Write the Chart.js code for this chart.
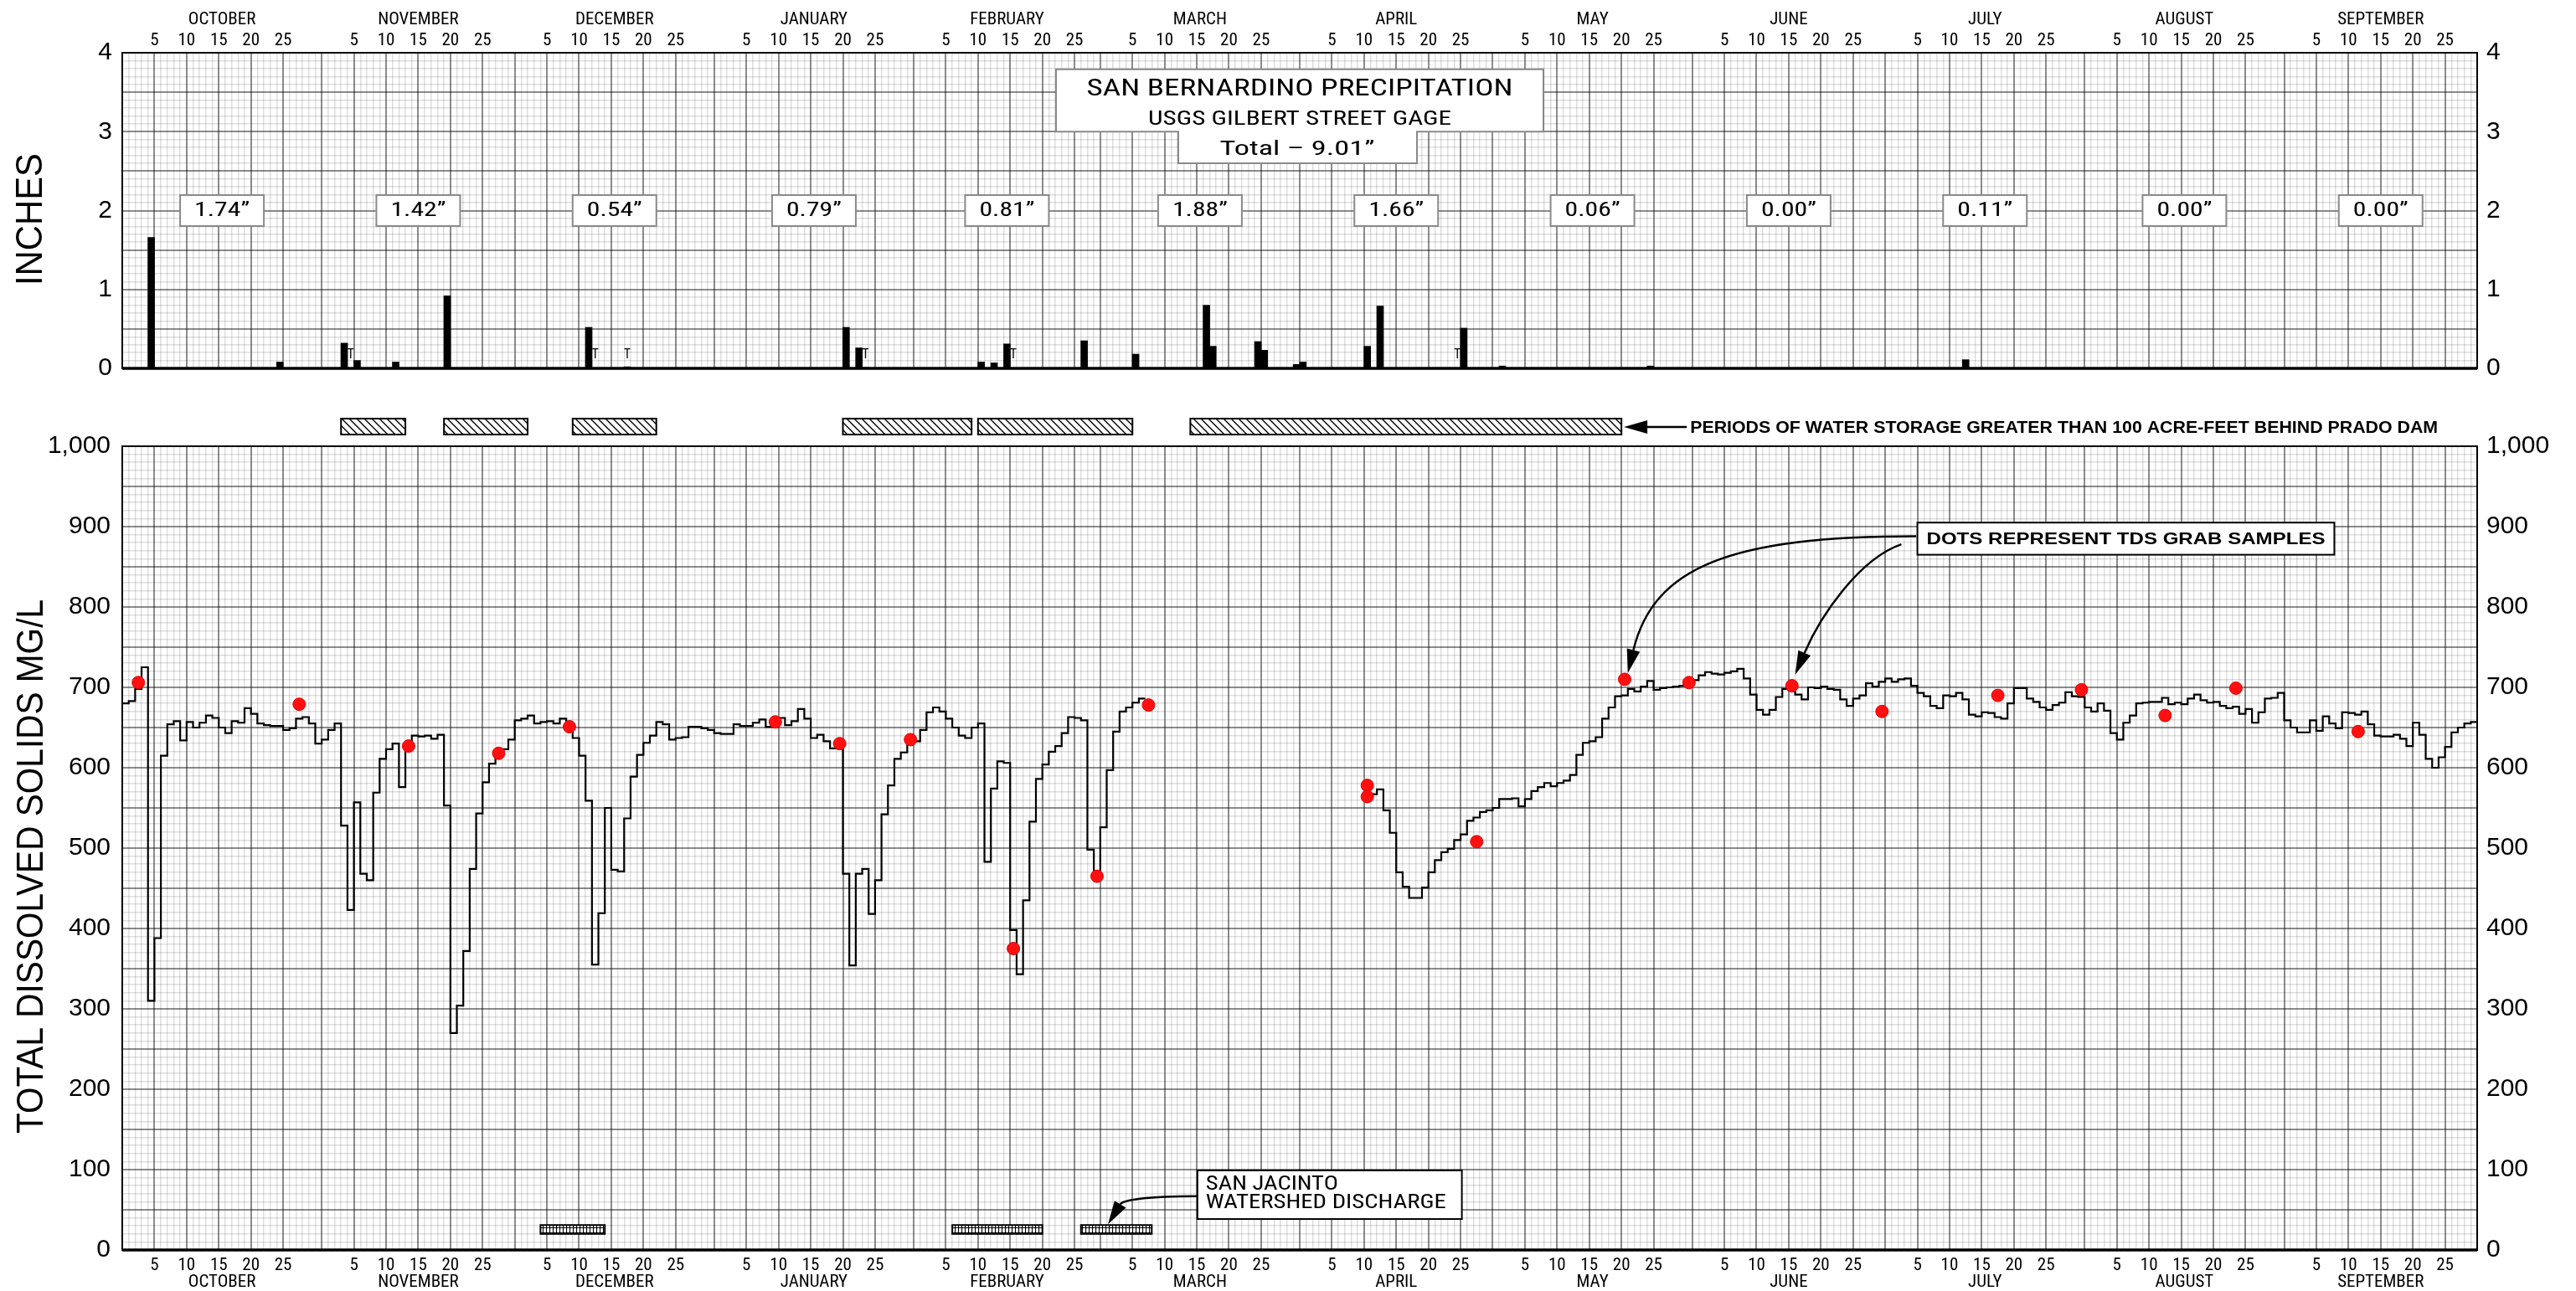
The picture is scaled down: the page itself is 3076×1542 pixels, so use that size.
<!DOCTYPE html>
<html>
<head>
<meta charset="utf-8">
<title>San Bernardino Precipitation and TDS</title>
<script src="https://cdn.jsdelivr.net/npm/chart.js@4"></script>
<style>
  body { margin: 0; background: #fff; }
  canvas { position: absolute; left: 0; }
  #rain { top: 0; }
  #tds { top: 470px; }
</style>
</head>
<body>
<canvas id="rain" width="3076" height="470"></canvas>
<canvas id="tds" width="3076" height="1072"></canvas>
<script>
// water year, Oct 1 .. Sep 30 (leap year, Feb has 29 days)
const monthKeys = ['OCT','NOV','DEC','JAN','FEB','MAR','APR','MAY','JUN','JUL','AUG','SEP'];
const monthNames = ['OCTOBER','NOVEMBER','DECEMBER','JANUARY','FEBRUARY','MARCH','APRIL','MAY','JUNE','JULY','AUGUST','SEPTEMBER'];
const monthLengths = [31,30,31,31,29,31,30,31,30,31,31,30];
const dayTickLabels = [5,10,15,20,25];
const monthTotals = ['1.74”','1.42”','0.54”','0.79”','0.81”','1.88”','1.66”','0.06”','0.00”','0.11”','0.00”','0.00”'];

// daily precipitation, inches
const precipDates = ['OCT 5','OCT 25','NOV 4','NOV 6','NOV 12','NOV 20','DEC 12','DEC 18','JAN 21','JAN 23','JAN 24',
  'FEB 11','FEB 13','FEB 15','FEB 27','MAR 6','MAR 17','MAR 18','MAR 25','MAR 26','MAR 31','APR 1','APR 11','APR 13',
  'APR 26','MAY 2','MAY 25','JUL 13'];
const precipInches = [1.66,0.08,0.32,0.10,0.08,0.92,0.52,0.02,0.52,0.26,0.01,
  0.08,0.07,0.31,0.35,0.18,0.80,0.28,0.34,0.23,0.05,0.08,0.28,0.79,
  0.51,0.03,0.03,0.11];
const traceDates = ['NOV 5','DEC 13','DEC 18','JAN 24','FEB 16','APR 25'];

// daily TDS, mg/L
const tdsOct = [680,683,698,725,310,388,615,654,658,634,657,650,656,665,662,650,643,658,656,674,667,655,653,652,652,647,649,661,663,655,630];
const tdsNov = [635,647,655,528,423,557,468,460,569,611,623,630,576,627,640,639,640,636,641,553,270,304,372,474,543,582,605,614,623,635];
const tdsDec = [659,661,665,655,657,658,655,661,656,637,615,559,355,419,550,473,471,537,589,616,631,640,657,654,635,637,638,651,651,649,647];
const tdsJan = [643,642,642,654,652,652,656,660,651,655,662,653,658,673,661,637,641,633,624,624,468,354,468,474,418,460,542,578,611,619,632];
const tdsFeb = [633,647,669,675,670,661,650,640,637,650,655,483,574,608,606,398,343,435,533,586,604,620,627,643,663,662,659,498,465];
const tdsMar = [526,597,645,670,675,681,686,null,null,null,null,null,null,null,null,null,null,null,null,null,null,null,null,null,null,null,null,null,null,null,null];
const tdsApr = [null,null,null,null,null,null,null,null,null,null,null,567,573,547,519,470,452,438,438,451,470,485,495,499,510,517,534,538,545,547];
const tdsMay = [550,561,561,562,552,561,571,576,581,577,581,584,591,616,631,633,638,661,675,689,690,698,695,701,708,697,699,700,701,702,704];
const tdsJun = [709,715,719,717,716,718,720,723,711,691,672,666,672,688,698,696,691,685,700,699,701,698,697,685,677,686,690,705,701,707];
const tdsJul = [711,707,710,711,702,693,689,677,674,690,689,693,685,666,664,669,668,663,661,680,699,699,686,682,675,672,678,681,694,689,688];
const tdsAug = [675,670,680,671,643,635,656,665,680,681,682,682,687,679,681,679,686,691,684,681,682,677,674,676,667,673,656,669,686,687,693];
const tdsSep = [659,650,644,644,659,646,664,655,649,669,668,666,670,654,640,639,639,641,636,627,656,641,611,600,613,626,644,650,655,657];

// TDS grab samples
const sampleDates = ['OCT 3','OCT 28','NOV 14','NOV 28','DEC 9','JAN 10','JAN 20','JAN 31','FEB 16','FEB 29','MAR 8',
  'APR 11','APR 11','APR 28','MAY 21','MAY 31','JUN 16','JUN 30','JUL 18','JUL 31','AUG 13','AUG 24','SEP 12'];
const sampleTds = [706,679,627,618,651,657,630,635,375,465,678,578,564,508,710,706,702,670,690,697,665,699,645];

// periods of storage > 100 acre-feet behind Prado Dam, and San Jacinto discharge
const storageFrom = ['NOV 4','NOV 20','DEC 10','JAN 21','FEB 11','MAR 15'];
const storageTo   = ['NOV 13','DEC 2','DEC 22','FEB 9','MAR 5','MAY 20'];
const dischargeFrom = ['DEC 5','FEB 7','FEB 27'];
const dischargeTo   = ['DEC 14','FEB 20','MAR 8'];

const NARROW = '"Liberation Sans Narrow", "Arial Narrow", "Roboto Condensed", "DejaVu Sans Condensed", "Liberation Sans", sans-serif';
const SANS = '"Liberation Sans", Arial, Helvetica, sans-serif';
const MAJOR = 'rgba(0,0,0,0.45)';
const MINOR = 'rgba(0,0,0,0.13)';

const monthStart = [];
let total = 0;
monthLengths.forEach(n => { monthStart.push(total); total += n; });
const DAYS = total;

function dayOf(s) {
  const [m, d] = s.split(' ');
  return monthStart[monthKeys.indexOf(m)] + Number(d) - 1;
}

const majorDays = new Set([DAYS]);
const dayLabel = new Map();
monthStart.forEach(s => {
  majorDays.add(s);
  dayTickLabels.forEach(d => { majorDays.add(s + d); dayLabel.set(s + d, String(d)); });
});

const tdsDaily = [].concat(tdsOct, tdsNov, tdsDec, tdsJan, tdsFeb, tdsMar, tdsApr, tdsMay, tdsJun, tdsJul, tdsAug, tdsSep);
const tdsSteps = [];
tdsDaily.forEach((v, i) => {
  if (v === null) tdsSteps.push({ x: i, y: null });
  else tdsSteps.push({ x: i, y: v }, { x: i + 1, y: v });
});

function fitText(ctx, text, x, y, width, font, align) {
  ctx.save();
  ctx.font = font;
  ctx.textBaseline = 'middle';
  ctx.textAlign = 'left';
  const w = ctx.measureText(text).width;
  let left = x;
  if (align === 'center') left = x - width / 2;
  if (align === 'right') left = x - width;
  ctx.translate(left, y);
  ctx.scale(width / w, 1);
  ctx.fillStyle = '#000';
  ctx.fillText(text, 0, 0);
  ctx.restore();
}

function arrow(ctx, p0, c1, c2, p3) {
  ctx.save();
  ctx.strokeStyle = '#000';
  ctx.fillStyle = '#000';
  ctx.lineWidth = 2.5;
  const ang = Math.atan2(p3.y - c2.y, p3.x - c2.x);
  const L = 28, W = 8;
  const bx = p3.x - L * Math.cos(ang), by = p3.y - L * Math.sin(ang);
  ctx.beginPath();
  ctx.moveTo(p0.x, p0.y);
  ctx.bezierCurveTo(c1.x, c1.y, c2.x, c2.y, bx, by);
  ctx.stroke();
  ctx.beginPath();
  ctx.moveTo(p3.x, p3.y);
  ctx.lineTo(bx - W * Math.sin(ang), by + W * Math.cos(ang));
  ctx.lineTo(bx + W * Math.sin(ang), by - W * Math.cos(ang));
  ctx.closePath();
  ctx.fill();
  ctx.restore();
}

function makePattern(w, h, draw) {
  const c = document.createElement('canvas');
  c.width = w; c.height = h;
  const g = c.getContext('2d');
  g.fillStyle = '#fff';
  g.fillRect(0, 0, w, h);
  g.strokeStyle = '#000';
  draw(g);
  return c;
}

function dayAxis(position, height, padding) {
  return {
    type: 'linear', position: position, min: 0, max: DAYS, offset: false, weight: 0,
    afterBuildTicks: s => { s.ticks = Array.from({ length: DAYS + 1 }, (_, i) => ({ value: i })); },
    afterFit: s => { s.height = height; },
    grid: {
      color: c => majorDays.has(c.tick.value) ? MAJOR : MINOR,
      lineWidth: c => majorDays.has(c.tick.value) ? 2 : 1.5,
      drawTicks: false, offset: false
    },
    border: { display: false },
    ticks: {
      autoSkip: false, maxRotation: 0, minRotation: 0, padding: padding, color: '#000',
      font: { family: NARROW, size: 21 },
      callback: v => dayLabel.get(v) || ''
    }
  };
}

function monthAxis(position, height, padding) {
  return {
    type: 'linear', position: position, min: 0, max: DAYS, offset: false, weight: 1,
    afterBuildTicks: s => { s.ticks = monthStart.map((st, i) => ({ value: st + monthLengths[i] / 2 })); },
    afterFit: s => { s.height = height; },
    grid: { display: false, drawTicks: false },
    border: { display: false },
    ticks: {
      autoSkip: false, maxRotation: 0, minRotation: 0, padding: padding, color: '#000',
      font: { family: NARROW, size: 21 },
      callback: (v, i) => monthNames[i]
    }
  };
}

function valueAxis(position, max, step, majorEvery, labelEvery, width, padding, fmt) {
  const n = Math.round(max / step);
  const isMajor = v => Math.round(v / step) % majorEvery === 0;
  return {
    type: 'linear', position: position, min: 0, max: max,
    afterBuildTicks: s => { s.ticks = Array.from({ length: n + 1 }, (_, i) => ({ value: i * step })); },
    afterFit: s => { s.width = width; },
    grid: {
      display: position === 'left',
      color: c => isMajor(c.tick.value) ? MAJOR : MINOR,
      lineWidth: c => isMajor(c.tick.value) ? 2 : 1.5,
      drawTicks: false
    },
    border: { display: false },
    ticks: {
      autoSkip: false, padding: padding, color: '#000',
      font: { family: SANS, size: 30 },
      callback: v => Math.round(v / step) % labelEvery === 0 ? fmt(Math.round(v * 10) / 10) : ''
    }
  };
}

function frame(chart, bottomWidth) {
  const ctx = chart.ctx, a = chart.chartArea;
  ctx.save();
  ctx.strokeStyle = '#000';
  ctx.lineWidth = 2;
  ctx.strokeRect(a.left, a.top, a.right - a.left, a.bottom - a.top);
  ctx.lineWidth = bottomWidth;
  ctx.beginPath();
  ctx.moveTo(a.left, a.bottom);
  ctx.lineTo(a.right, a.bottom);
  ctx.stroke();
  ctx.restore();
}

const rainDecor = {
  id: 'rainDecor',
  afterDatasetsDraw(chart) {
    const ctx = chart.ctx, x = chart.scales.x, y = chart.scales.y, a = chart.chartArea;
    frame(chart, 3.5);

    // trace marks
    traceDates.forEach(d => {
      fitText(ctx, 'T', x.getPixelForValue(dayOf(d) + 0.5), y.getPixelForValue(0.17), 8, '17px ' + NARROW, 'center');
    });

    // monthly totals
    ctx.save();
    monthTotals.forEach((t, i) => {
      const cx = x.getPixelForValue(monthStart[i] + monthLengths[i] / 2);
      const cy = y.getPixelForValue(2);
      ctx.fillStyle = '#fff';
      ctx.fillRect(cx - 50, cy - 18.5, 100, 37);
      ctx.strokeStyle = '#8a8a8a';
      ctx.lineWidth = 2;
      ctx.strokeRect(cx - 50, cy - 18.5, 100, 37);
      fitText(ctx, t, cx, cy, 66, '24px ' + NARROW, 'center');
    });
    ctx.restore();

    // title box
    const cx = (a.left + a.right) / 2;
    const t0 = y.getPixelForValue(3.79), t1 = y.getPixelForValue(3.0), t2 = y.getPixelForValue(2.6);
    ctx.save();
    ctx.beginPath();
    ctx.moveTo(cx - 291, t0); ctx.lineTo(cx + 291, t0); ctx.lineTo(cx + 291, t1);
    ctx.lineTo(cx + 140, t1); ctx.lineTo(cx + 140, t2); ctx.lineTo(cx - 145, t2);
    ctx.lineTo(cx - 145, t1); ctx.lineTo(cx - 291, t1); ctx.closePath();
    ctx.fillStyle = '#fff';
    ctx.fill();
    ctx.strokeStyle = '#8a8a8a';
    ctx.lineWidth = 2;
    ctx.stroke();
    ctx.restore();
    fitText(ctx, 'SAN BERNARDINO PRECIPITATION', cx, y.getPixelForValue(3.53), 509, '28px ' + NARROW, 'center');
    fitText(ctx, 'USGS GILBERT STREET GAGE', cx, y.getPixelForValue(3.15), 362, '24px ' + NARROW, 'center');
    fitText(ctx, 'Total – 9.01”', cx - 3, y.getPixelForValue(2.77), 185, '24px ' + NARROW, 'center');
  },
  afterDraw(chart) {
    const ctx = chart.ctx;
    ctx.save();
    ctx.translate(38, 262);
    ctx.rotate(-Math.PI / 2);
    fitText(ctx, 'INCHES', 0, 0, 158, '44px ' + SANS, 'center');
    ctx.restore();
  }
};

const hatch = makePattern(9, 9, g => {
  g.lineWidth = 1.4;
  g.beginPath();
  g.moveTo(0, 0); g.lineTo(9, 9);
  g.moveTo(-2, 7); g.lineTo(2, 11);
  g.moveTo(7, -2); g.lineTo(11, 2);
  g.stroke();
});
const crossHatch = makePattern(4, 6, g => {
  g.lineWidth = 1.2;
  g.beginPath();
  g.moveTo(0.5, 0); g.lineTo(0.5, 6);
  g.moveTo(0, 0.5); g.lineTo(4, 0.5);
  g.stroke();
});

const tdsDecor = {
  id: 'tdsDecor',
  beforeDatasetsDraw(chart) {
    const ctx = chart.ctx, x = chart.scales.x, y = chart.scales.y;
    ctx.save();
    ctx.fillStyle = ctx.createPattern(crossHatch, 'repeat');
    ctx.strokeStyle = '#000';
    ctx.lineWidth = 2;
    dischargeFrom.forEach((d, i) => {
      const x0 = x.getPixelForValue(dayOf(d)), x1 = x.getPixelForValue(dayOf(dischargeTo[i]) + 1);
      const y0 = y.getPixelForValue(31), y1 = y.getPixelForValue(20);
      ctx.fillRect(x0, y0, x1 - x0, y1 - y0);
      ctx.strokeRect(x0, y0, x1 - x0, y1 - y0);
    });
    ctx.restore();
  },
  afterDatasetsDraw(chart) {
    const ctx = chart.ctx, x = chart.scales.x, y = chart.scales.y, a = chart.chartArea;
    const P = (d, v) => ({ x: x.getPixelForValue(d), y: y.getPixelForValue(v) });
    frame(chart, 3.5);

    // storage periods above the plot
    ctx.save();
    ctx.fillStyle = ctx.createPattern(hatch, 'repeat');
    ctx.strokeStyle = '#000';
    ctx.lineWidth = 2;
    let lastEnd = 0;
    storageFrom.forEach((d, i) => {
      const x0 = x.getPixelForValue(dayOf(d)), x1 = x.getPixelForValue(dayOf(storageTo[i]) + 1);
      ctx.fillRect(x0, a.top - 33, x1 - x0, 19);
      ctx.strokeRect(x0, a.top - 33, x1 - x0, 19);
      lastEnd = x1;
    });
    ctx.restore();
    const ay = a.top - 23;
    arrow(ctx, { x: lastEnd + 78, y: ay }, { x: lastEnd + 60, y: ay }, { x: lastEnd + 30, y: ay }, { x: lastEnd + 3, y: ay });
    fitText(ctx, 'PERIODS OF WATER STORAGE GREATER THAN 100 ACRE-FEET BEHIND PRADO DAM', lastEnd + 82, ay + 1, 893, 'bold 21px ' + SANS, 'left');

    // grab samples note
    const b0 = P(279, 905), b1 = P(343.8, 865);
    ctx.save();
    ctx.fillStyle = '#fff';
    ctx.fillRect(b0.x, b0.y, b1.x - b0.x, b1.y - b0.y);
    ctx.strokeStyle = '#000';
    ctx.lineWidth = 2;
    ctx.strokeRect(b0.x, b0.y, b1.x - b0.x, b1.y - b0.y);
    ctx.restore();
    fitText(ctx, 'DOTS REPRESENT TDS GRAB SAMPLES', (b0.x + b1.x) / 2, (b0.y + b1.y) / 2 + 1, 476, 'bold 21px ' + SANS, 'center');
    arrow(ctx, P(278.8, 888), P(250, 888), P(238, 850), P(234, 718));
    arrow(ctx, P(276.5, 878), P(270, 860), P(264, 790), P(260, 716));

    // San Jacinto note
    const s0 = P(167.1, 99), s1 = P(208.2, 38.5);
    ctx.save();
    ctx.fillStyle = '#fff';
    ctx.fillRect(s0.x, s0.y, s1.x - s0.x, s1.y - s0.y);
    ctx.strokeStyle = '#000';
    ctx.lineWidth = 2;
    ctx.strokeRect(s0.x, s0.y, s1.x - s0.x, s1.y - s0.y);
    ctx.restore();
    fitText(ctx, 'SAN JACINTO', s0.x + 10, y.getPixelForValue(81), 158, '24px ' + NARROW, 'left');
    fitText(ctx, 'WATERSHED DISCHARGE', s0.x + 10, y.getPixelForValue(58), 287, '24px ' + NARROW, 'left');
    arrow(ctx, P(167.1, 67), P(159, 67), P(155.5, 62), P(153.2, 32));
  },
  afterDraw(chart) {
    const ctx = chart.ctx;
    ctx.save();
    ctx.translate(39, 565);
    ctx.rotate(-Math.PI / 2);
    fitText(ctx, 'TOTAL DISSOLVED SOLIDS MG/L', 0, 0, 638, '44px ' + SANS, 'center');
    ctx.restore();
  }
};

const common = {
  responsive: false,
  animation: false,
  events: [],
  plugins: { legend: { display: false }, tooltip: { enabled: false } }
};

new Chart(document.getElementById('rain'), {
  type: 'bar',
  data: {
    datasets: [{
      data: precipDates.map((d, i) => ({ x: dayOf(d) + 0.5, y: precipInches[i] })),
      backgroundColor: '#000',
      borderWidth: 0,
      barThickness: 8
    }]
  },
  options: Object.assign({}, common, {
    layout: { padding: { top: 0, bottom: 23, left: 0, right: 0 } },
    scales: {
      x: dayAxis('top', 27, 2),
      xm: monthAxis('top', 36, 0),
      y: valueAxis('left', 4, 0.1, 5, 10, 146, 12, v => String(v)),
      y2: valueAxis('right', 4, 0.1, 5, 10, 118, 11, v => String(v))
    }
  }),
  plugins: [rainDecor]
});

new Chart(document.getElementById('tds'), {
  type: 'line',
  data: {
    datasets: [{
      type: 'scatter',
      order: 0,
      data: sampleDates.map((d, i) => ({ x: dayOf(d) + 0.5, y: sampleTds[i] })),
      pointRadius: 7.5,
      pointBackgroundColor: '#ff1010',
      pointBorderColor: '#e00000',
      pointBorderWidth: 1,
      showLine: false
    }, {
      type: 'line',
      order: 1,
      data: tdsSteps,
      borderColor: '#000',
      borderWidth: 2.2,
      pointRadius: 0,
      spanGaps: false,
      tension: 0
    }]
  },
  options: Object.assign({}, common, {
    layout: { padding: { top: 63, bottom: 0, left: 0, right: 0 } },
    scales: {
      x: dayAxis('bottom', 26, 6),
      xm: monthAxis('bottom', 23, 0),
      y: valueAxis('left', 1000, 10, 5, 10, 146, 14, v => v.toLocaleString('en-US')),
      y2: valueAxis('right', 1000, 10, 5, 10, 118, 11, v => v.toLocaleString('en-US'))
    }
  }),
  plugins: [tdsDecor]
});
</script>
</body>
</html>
